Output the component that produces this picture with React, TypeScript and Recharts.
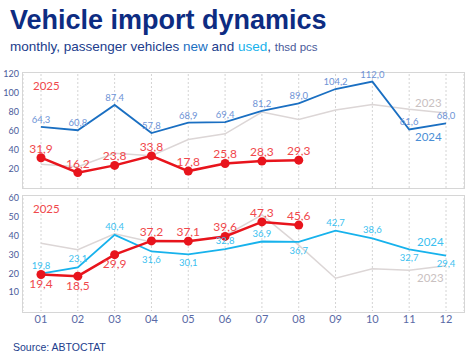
import React from "react";
import { LineChart, Line, XAxis, YAxis, CartesianGrid, LabelList } from "recharts";

const months = ["01", "02", "03", "04", "05", "06", "07", "08", "09", "10", "11", "12"];

// new passenger vehicles, thsd pcs
const new2023 = [25, 22.5, 36.5, 34, 51, 57, 80, 72, 82, 88, 83, 79];
const new2024 = [64.3, 60.8, 87.4, 57.8, 68.9, 69.4, 81.2, 89.0, 104.2, 112.0, 61.6, 68.0];
const new2025 = [31.9, 16.2, 23.8, 33.8, 17.8, 25.8, 28.3, 29.3];

// used passenger vehicles, thsd pcs
const used2023 = [36, 32.5, 41, 36.6, 37, 40, 51, 35, 17.4, 22.4, 21.7, 24];
const used2024 = [19.8, 23.1, 40.4, 31.6, 30.1, 32.8, 36.9, 36.7, 42.7, 38.6, 32.7, 29.4];
const used2025 = [19.4, 18.5, 29.9, 37.2, 37.1, 39.6, 47.3, 45.6];

const newTicks = [20, 40, 60, 80, 100, 120];
const usedTicks = [10, 20, 30, 40, 50, 60];

// which labels sit under their point
const used2024Below = [3, 4, 7, 10, 11];
const used2025Below = [0, 1, 2];

const toRows = (a: number[], b: number[], c: number[]) =>
  months.map((m, i) => ({ m, y2023: a[i], y2024: b[i], y2025: c[i] }));

const newData = toRows(new2023, new2024, new2025);
const usedData = toRows(used2023, used2024, used2025);

const FONT = "Lato, 'Open Sans', sans-serif";
const RED = "#e8141c";
const RED_TXT = "#f0484c";
const BLUE = "#1a6fc2";
const BLUE_TXT = "#6e93d6";
const CYAN = "#17b2ec";
const CYAN_TXT = "#3bbff0";
const GRAY = "#dcd6d6";

const fmt = (v: number) => v.toFixed(1).replace(".", ",");

function makeLabel(color: string, size: number, below: number[], gap: number) {
  return (props: any) => {
    const { x, y, value, index } = props;
    if (value == null) return null;
    const isBelow = below.includes(index);
    return (
      <text
        x={x}
        y={isBelow ? y + gap + size * 0.72 : y - gap}
        textAnchor="middle"
        fill={color}
        fontSize={size}
        fontFamily={FONT}
      >
        {fmt(value)}
      </text>
    );
  };
}

const tickStyle = { fill: "#4a5a9a", fontSize: 9, fontFamily: FONT };

const txt = (style: React.CSSProperties): React.CSSProperties => ({
  position: "absolute",
  fontFamily: FONT,
  lineHeight: 1,
  whiteSpace: "nowrap",
  ...style,
});

const box = (top: number, height: number): React.CSSProperties => ({
  position: "absolute",
  left: 22,
  top,
  width: 443,
  height,
  border: "1.5px solid #d6d6d6",
  boxSizing: "border-box",
  pointerEvents: "none",
});

export default function App() {
  return (
    <div style={{ position: "absolute", left: 0, top: 0, width: 475, height: 355, background: "#fff", overflow: "hidden" }}>
      <div style={txt({ left: 10, top: 7, fontFamily: "'Liberation Sans', Arial, sans-serif", fontWeight: 700, fontSize: 27, color: "#0d2c82" })}>
        Vehicle import dynamics
      </div>
      <div style={txt({ left: 10, top: 40, fontFamily: "'Liberation Sans', Arial, sans-serif", fontSize: 13.5, color: "#213d8c" })}>
        monthly, passenger vehicles <span style={{ color: BLUE }}>new</span> and{" "}
        <span style={{ color: CYAN }}>used</span>, <span style={{ fontSize: 11.5, color: "#4a5a9a" }}>thsd pcs</span>
      </div>

      <div style={box(72, 117)} />
      <div style={box(195, 118)} />

      <div style={{ position: "absolute", left: 0, top: 0 }}>
        <LineChart width={475} height={195} data={newData} margin={{ top: 74, right: 11, bottom: 7, left: 0 }}>
          <CartesianGrid vertical horizontal={false} stroke="#d4d4d4" strokeDasharray="2 2" />
          <XAxis dataKey="m" hide padding={{ left: 18, right: 18 }} />
          <YAxis width={23} domain={[0, 120]} ticks={newTicks} tick={tickStyle} tickSize={1} tickMargin={3} axisLine={false} tickLine={false} interval={0} />
          <Line dataKey="y2023" stroke={GRAY} strokeWidth={1.5} dot={false} isAnimationActive={false} />
          <Line dataKey="y2024" stroke={BLUE} strokeWidth={1.8} dot={false} isAnimationActive={false}>
            <LabelList dataKey="y2024" content={makeLabel(BLUE_TXT, 9.5, [], 4)} />
          </Line>
          <Line dataKey="y2025" stroke={RED} strokeWidth={2.5} dot={{ r: 4.5, fill: RED, stroke: RED, strokeWidth: 0 }} isAnimationActive={false}>
            <LabelList dataKey="y2025" content={makeLabel(RED_TXT, 12, [], 5)} />
          </Line>
        </LineChart>
      </div>

      <div style={{ position: "absolute", left: 0, top: 0 }}>
        <LineChart width={475} height={355} data={usedData} margin={{ top: 198, right: 11, bottom: 24, left: 0 }}>
          <CartesianGrid vertical horizontal={false} stroke="#d4d4d4" strokeDasharray="2 2" />
          <XAxis
            dataKey="m"
            height={20}
            padding={{ left: 18, right: 18 }}
            tick={{ fill: "#5a6aa6", fontSize: 11, fontFamily: FONT }}
            tickSize={1}
            tickMargin={3}
            axisLine={false}
            tickLine={false}
            interval={0}
          />
          <YAxis width={23} domain={[0, 60]} ticks={usedTicks} tick={tickStyle} tickSize={1} tickMargin={3} axisLine={false} tickLine={false} interval={0} />
          <Line dataKey="y2023" stroke={GRAY} strokeWidth={1.5} dot={false} isAnimationActive={false} />
          <Line dataKey="y2024" stroke={CYAN} strokeWidth={1.8} dot={false} isAnimationActive={false}>
            <LabelList dataKey="y2024" content={makeLabel(CYAN_TXT, 9.5, used2024Below, 5)} />
          </Line>
          <Line dataKey="y2025" stroke={RED} strokeWidth={2.5} dot={{ r: 4.5, fill: RED, stroke: RED, strokeWidth: 0 }} isAnimationActive={false}>
            <LabelList dataKey="y2025" content={makeLabel(RED_TXT, 12, used2025Below, 5)} />
          </Line>
        </LineChart>
      </div>

      <div style={txt({ left: 33, top: 80, fontSize: 11.5, color: RED_TXT })}>2025</div>
      <div style={txt({ left: 33, top: 203, fontSize: 11.5, color: RED_TXT })}>2025</div>
      <div style={txt({ left: 415, top: 97, fontSize: 11.5, color: "#c9c1c1" })}>2023</div>
      <div style={txt({ left: 415, top: 131, fontSize: 11.5, color: "#4a8fd6" })}>2024</div>
      <div style={txt({ left: 417, top: 236, fontSize: 11.5, color: CYAN_TXT })}>2024</div>
      <div style={txt({ left: 417, top: 272, fontSize: 11.5, color: "#c9c1c1" })}>2023</div>

      <div style={txt({ left: 13, top: 342, fontFamily: "'Liberation Sans', Arial, sans-serif", fontSize: 10.5, color: "#213d8c" })}>
        Source: ABTOCTAT
      </div>
    </div>
  );
}
